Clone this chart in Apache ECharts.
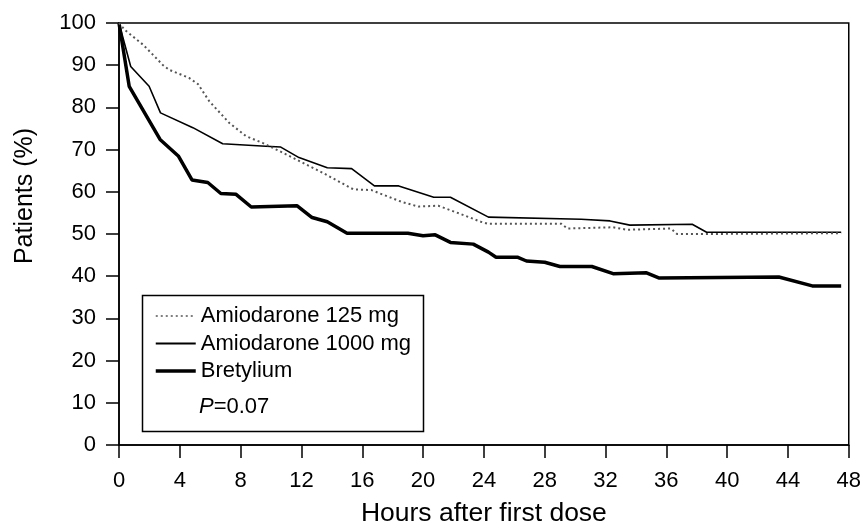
<!DOCTYPE html>
<html>
<head>
<meta charset="utf-8">
<script src="https://cdn.jsdelivr.net/npm/echarts@6/dist/echarts.min.js"></script>
<style>
  html, body { margin: 0; padding: 0; background: #fff; }
  #chart { width: 864px; height: 532px; }
</style>
</head>
<body>
<div id="chart"></div>
<script>
// hours after first dose / patients (%) for each arm
const amio125Hours = [0, 0.4, 1.6, 2.9, 3.3, 4.6, 5.2, 5.95, 7.26, 8.35, 9.44, 10.75, 12.3, 13.4, 15.4, 16.6, 18.6, 19.7, 21, 22.5, 23.8, 24.3, 29.1, 29.5, 32.5, 33.4, 36.3, 36.7, 38.6, 47.5];
const amio125Values = [100, 98.3, 94.8, 90, 88.9, 87, 85.5, 81.4, 76.3, 73.2, 71.6, 69.3, 66.5, 64.5, 60.6, 60.4, 57.6, 56.5, 56.7, 54.7, 52.9, 52.4, 52.4, 51.3, 51.6, 51, 51.3, 50, 50, 50.2];

const amio1000Hours = [0, 0.77, 1.98, 2.73, 4.86, 6.82, 9.66, 10.64, 11.84, 13.7, 15.3, 16.8, 18.4, 20.7, 21.8, 24.3, 30.4, 32.3, 33.6, 37.7, 38.65, 47.5];
const amio1000Values = [100, 89.7, 85, 78.7, 75.2, 71.4, 70.8, 70.6, 68.1, 65.7, 65.5, 61.4, 61.4, 58.7, 58.7, 54, 53.5, 53.1, 52.1, 52.3, 50.4, 50.4];

const bretHours = [0, 0.67, 2.7, 3.9, 4.8, 5.84, 6.7, 7.7, 8.7, 11.7, 12.7, 13.7, 15, 19, 20, 20.8, 21.8, 23.3, 24.3, 24.8, 26.2, 26.8, 28, 29, 31.1, 32.5, 34.7, 35.5, 43.4, 45.6, 47.5];
const bretValues = [100, 85, 72.4, 68.5, 62.8, 62.2, 59.6, 59.4, 56.4, 56.7, 53.9, 52.9, 50.2, 50.2, 49.6, 49.8, 48, 47.6, 45.7, 44.5, 44.5, 43.6, 43.3, 42.3, 42.3, 40.6, 40.8, 39.6, 39.8, 37.7, 37.7];

const seriesNames = ['Amiodarone 125 mg', 'Amiodarone 1000 mg', 'Bretylium'];
const pValueText = '{i|P}=0.07';

const FONT = "'Liberation Sans', Arial, sans-serif";

const zip = (xs, ys) => xs.map((x, i) => [x, ys[i]]);

const chart = echarts.init(document.getElementById('chart'));

const option = {
  animation: false,
  backgroundColor: '#fff',
  textStyle: { fontFamily: FONT, color: '#000' },
  grid: {
    left: 119,
    right: 11,
    top: 23,
    bottom: 85,
    show: true,
    borderColor: '#000',
    borderWidth: 1.5,
  },
  xAxis: {
    type: 'value',
    min: 0,
    max: 48,
    interval: 4,
    name: 'Hours after first dose',
    nameLocation: 'middle',
    nameGap: 55,
    nameTextStyle: { fontSize: 26.5, color: '#000', fontFamily: FONT },
    axisLine: { lineStyle: { color: '#000', width: 1.5 } },
    axisTick: { length: 13, lineStyle: { color: '#000', width: 1.5 } },
    axisLabel: { margin: 25, fontSize: 22, color: '#000', fontFamily: FONT },
    splitLine: { show: false },
  },
  yAxis: {
    type: 'value',
    min: 0,
    max: 100,
    interval: 10,
    name: 'Patients (%)',
    nameLocation: 'middle',
    nameGap: 81,
    nameTextStyle: { fontSize: 25, color: '#000', fontFamily: FONT, padding: [0, 0, 0, 76] },
    axisLine: { lineStyle: { color: '#000', width: 1.5 } },
    axisTick: { length: 13, lineStyle: { color: '#000', width: 1.5 } },
    axisLabel: { margin: 23, fontSize: 22, color: '#000', fontFamily: FONT },
    splitLine: { show: false },
  },
  legend: {
    orient: 'vertical',
    left: 154,
    top: 305,
    itemWidth: 40,
    itemHeight: 14,
    itemGap: 5.5,
    padding: 0,
    data: [
      { name: seriesNames[0], lineStyle: { width: 1.5 } },
      { name: seriesNames[1], lineStyle: { width: 1.8 } },
      { name: seriesNames[2], lineStyle: { width: 3.5 } },
    ],
    itemStyle: { opacity: 0 },
    textStyle: { fontSize: 22, lineHeight: 20.5, color: '#000', fontFamily: FONT },
  },
  graphic: [
    {
      type: 'rect',
      left: 140,
      top: 293,
      shape: { width: 281, height: 136 },
      style: { fill: 'none', stroke: '#000', lineWidth: 1.5 },
    },
    {
      type: 'text',
      left: 199,
      top: 396,
      style: {
        text: pValueText,
        fontSize: 22,
        fontFamily: FONT,
        fill: '#000',
        rich: { i: { fontStyle: 'italic', fontSize: 22, fontFamily: FONT } },
      },
    },
  ],
  series: [
    {
      name: seriesNames[0],
      type: 'line',
      symbol: 'none',
      data: zip(amio125Hours, amio125Values),
      lineStyle: { color: '#555', width: 2, type: [2, 3] },
      itemStyle: { color: '#555' },
      z: 3,
    },
    {
      name: seriesNames[1],
      type: 'line',
      symbol: 'none',
      data: zip(amio1000Hours, amio1000Values),
      lineStyle: { color: '#000', width: 1.6 },
      itemStyle: { color: '#000' },
      z: 2,
    },
    {
      name: seriesNames[2],
      type: 'line',
      symbol: 'none',
      data: zip(bretHours, bretValues),
      lineStyle: { color: '#000', width: 3.5 },
      itemStyle: { color: '#000' },
      z: 2,
    },
  ],
};

chart.setOption(option);
</script>
</body>
</html>
